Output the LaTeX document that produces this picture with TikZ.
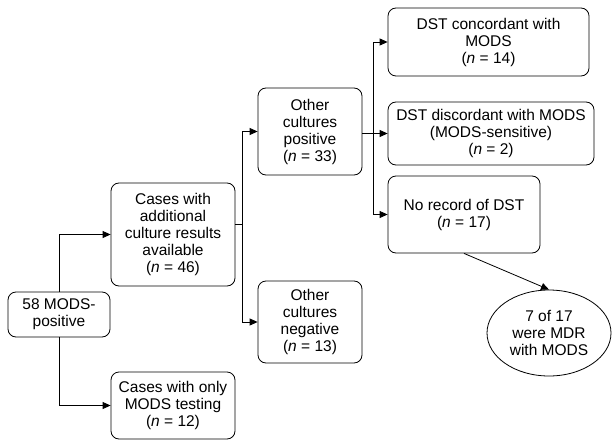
\documentclass[tikz,border=0pt]{standalone}
\usepackage{fontspec}
\setmainfont{Liberation Sans}
\usetikzlibrary{shapes.geometric,arrows.meta}

\tikzset{
  flowbox/.style={draw, rounded corners=8pt, align=center, inner sep=0pt, line width=0.8pt,
    font=\fontsize{15.5}{17}\selectfont},
  oval/.style={draw, ellipse, align=center, inner sep=0pt, line width=0.8pt,
    font=\fontsize{15.5}{17}\selectfont},
  link/.style={line width=0.8pt, -{Triangle[length=8pt,width=7pt]}}
}

\begin{document}
\begin{tikzpicture}[x=1pt,y=-1pt]
	  \useasboundingbox (0,0) rectangle (612,441);   % page frame

	  % first column
	  \node[flowbox, minimum width=102pt, minimum height=45pt] (pos58) at (59,314.5) {58 MODS-\\positive};

	  % second column
	  \node[flowbox, minimum width=124pt, minimum height=103pt] (addl) at (173,234.5) {Cases with\\additional\\culture results\\available\\(\textit{n} = 46)};
	  \node[flowbox, minimum width=124pt, minimum height=67pt] (only) at (173,405.5) {Cases with only\\MODS testing\\(\textit{n} = 12)};

	  % third column
	  \node[flowbox, minimum width=104pt, minimum height=87pt] (othpos) at (310,131.5) {Other\\cultures\\positive\\(\textit{n} = 33)};
	  \node[flowbox, minimum width=104pt, minimum height=82pt] (othneg) at (310,322) {Other\\cultures\\negative\\(\textit{n} = 13)};

	  % fourth column
	  \node[flowbox, minimum width=201pt, minimum height=68pt] (conc) at (488.5,42) {DST concordant with\\MODS\\(\textit{n} = 14)};
	  \node[flowbox, minimum width=206pt, minimum height=63pt] (disc) at (491,133.5) {DST discordant with MODS\\(MODS-sensitive)\\(\textit{n} = 2)};
	  \node[flowbox, minimum width=152pt, minimum height=77pt] (norec) at (464,214.5) {No record of DST\\(\textit{n} = 17)};
	  \node[oval, minimum width=124pt, minimum height=86pt] (mdr) at (549,333) {7 of 17\\were MDR\\with MODS};

	  % connectors
	  \draw[link] (pos58.north) |- (addl.west);
	  \draw[link] (pos58.south) |- (only.west);

	  \coordinate (j1) at (242,224);
	  \draw[line width=0.8pt] (addl.east |- j1) -- (j1);
	  \draw[link] (j1) |- (othpos.west);
	  \draw[link] (j1) |- (othneg.west);

	  \coordinate (j2) at (373,133.5);
	  \draw[link] (othpos.east |- j2) -- (disc.west |- j2);
	  \draw[link] (j2) |- (conc.west);
	  \draw[link] (j2) |- (norec.west);

	  \draw[link] (norec.south) -- (mdr.north);
	\end{tikzpicture}
\end{document}
